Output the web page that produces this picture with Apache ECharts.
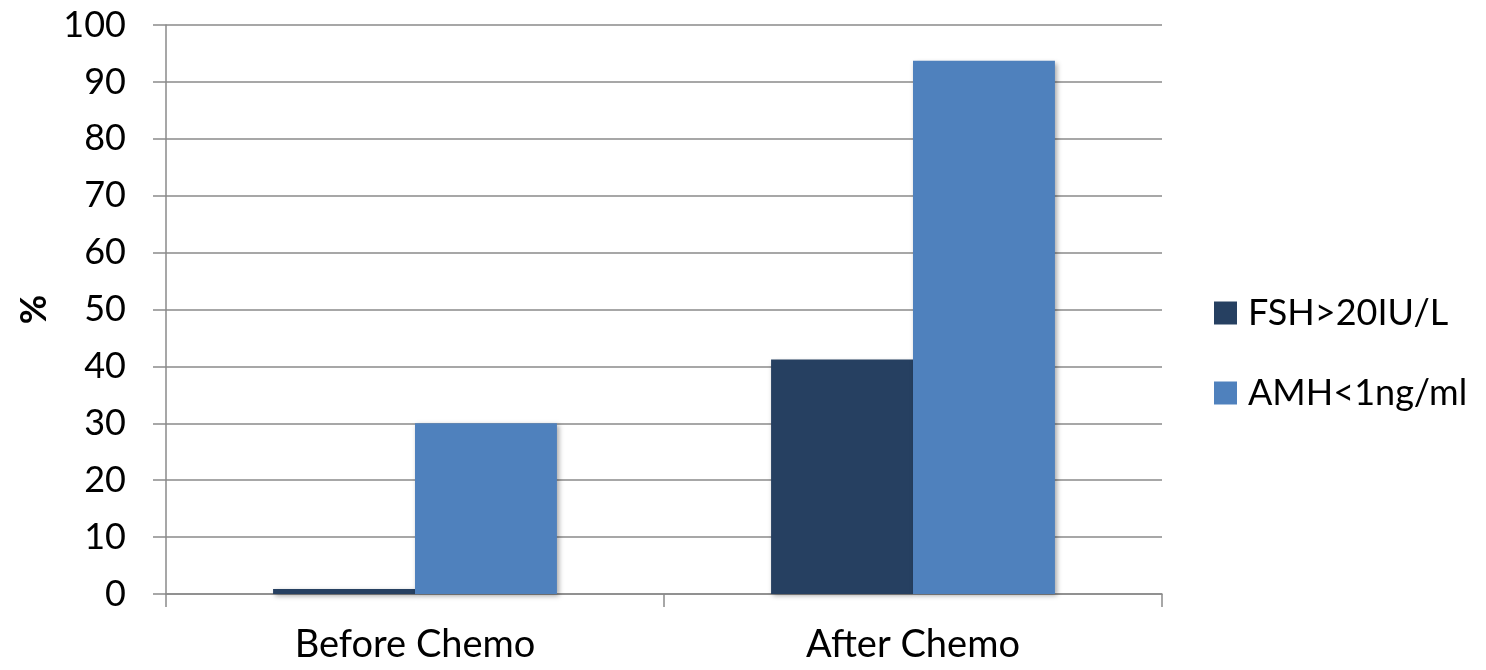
<!DOCTYPE html>
<html>
<head>
<meta charset="utf-8">
<script src="https://cdn.jsdelivr.net/npm/echarts@6/dist/echarts.min.js"></script>
<style>
html,body{margin:0;padding:0;background:#fff;}
#chart{width:1486px;height:670px;}
</style>
</head>
<body>
<div id="chart"></div>
<script>
const categories = ['Before Chemo', 'After Chemo'];
const seriesNames = ['FSH>20IU/L', 'AMH<1ng/ml'];
const fshValues = [0.9, 41.2];
const amhValues = [30, 93.7];
const yTicks = [0, 10, 20, 30, 40, 50, 60, 70, 80, 90, 100];

const FONT = 'Lato';
const chart = echarts.init(document.getElementById('chart'), null, {renderer: 'canvas'});
const shadow = {shadowBlur: 5, shadowColor: 'rgba(0,0,0,0.35)', shadowOffsetX: 2, shadowOffsetY: 2};
chart.setOption({
  animation: false,
  backgroundColor: '#ffffff',
  grid: {left: 166, right: 324, top: 25, bottom: 76, containLabel: false, outerBoundsMode: 'none'},
  legend: {
    orient: 'vertical',
    left: 1209,
    top: 290,
    itemWidth: 23,
    itemHeight: 23,
    itemGap: 44,
    icon: 'rect',
    data: seriesNames,
    textStyle: {fontFamily: FONT, fontSize: 36, color: '#000', padding: [0, 0, 0, 6]}
  },
  xAxis: {
    type: 'category',
    data: categories,
    boundaryGap: true,
    axisLine: {show: true, lineStyle: {color: '#8a8a8a', width: 1.5}},
    axisTick: {show: true, length: 13, alignWithLabel: false, lineStyle: {color: '#8a8a8a', width: 1.5}},
    axisLabel: {fontFamily: FONT, fontSize: 38, color: '#000', margin: 32}
  },
  yAxis: {
    type: 'value',
    min: yTicks[0],
    max: yTicks[yTicks.length - 1],
    interval: 10,
    name: '%',
    nameLocation: 'middle',
    nameRotate: 90,
    nameGap: 113,
    nameTextStyle: {fontFamily: FONT, fontSize: 36, fontWeight: 'bold', color: '#000'},
    axisLine: {show: true, lineStyle: {color: '#8a8a8a', width: 1.5}},
    axisTick: {show: true, length: 13, lineStyle: {color: '#8a8a8a', width: 1.5}},
    axisLabel: {fontFamily: FONT, fontSize: 36, color: '#000', margin: 40},
    splitLine: {show: true, lineStyle: {color: '#8a8a8a', width: 1.5}}
  },
  series: [
    {name: seriesNames[0], type: 'bar', data: fshValues, barGap: '0%', barCategoryGap: '43%',
     itemStyle: Object.assign({color: '#264061'}, shadow)},
    {name: seriesNames[1], type: 'bar', data: amhValues, barGap: '0%', barCategoryGap: '43%',
     itemStyle: Object.assign({color: '#4f81bd'}, shadow)}
  ]
});
</script>
</body>
</html>
